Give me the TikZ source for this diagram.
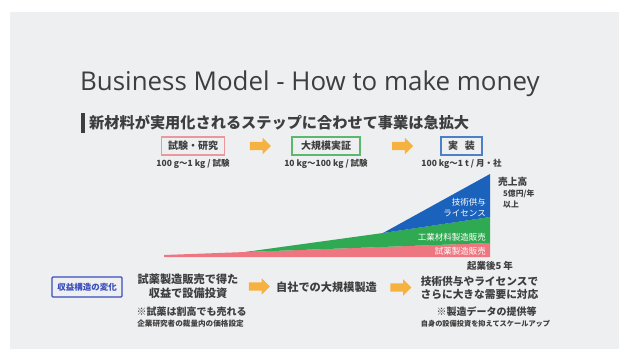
\documentclass[tikz,border=0pt]{standalone}
\usepackage{fontspec}
\setmainfont{Carlito}
\newfontfamily\titlefont{Open Sans}
\newfontfamily\jp{Noto Sans CJK JP}
\usetikzlibrary{positioning}
\usetikzlibrary{shapes.arrows}

\definecolor{slidegray}{RGB}{238,239,241}
\definecolor{txtgray}{RGB}{62,62,62}
\definecolor{titlegray}{RGB}{62,62,62}
\definecolor{pinkc}{RGB}{238,118,128}
\definecolor{greenc}{RGB}{48,170,82}
\definecolor{bluec}{RGB}{26,98,188}
\definecolor{orangec}{RGB}{246,178,64}
\definecolor{boxpink}{RGB}{236,150,158}
\definecolor{boxgreen}{RGB}{92,184,110}
\definecolor{boxblue}{RGB}{78,128,200}
\definecolor{navyc}{RGB}{58,78,188}

\tikzset{
  stepbox/.style={draw=#1, line width=1.2pt, minimum height=18pt, inner sep=0pt,
    text=txtgray, font=\jp\bfseries\fontsize{10}{12}\selectfont},
  subtxt/.style={text=txtgray, inner sep=0pt, font=\jp\bfseries\fontsize{8.5}{10}\selectfont},
  bigarrow/.style={single arrow, fill=orangec, inner xsep=0pt, inner ysep=4pt,
    minimum width=16pt, minimum height=21pt, single arrow head extend=4pt},
  chartlbl/.style={text=white, inner sep=0pt, align=right, font=\jp\fontsize{8.5}{11}\selectfont},
  maintxt/.style={text=txtgray, inner sep=0pt, align=center, font=\jp\bfseries\fontsize{11.2}{14}\selectfont},
  notetxt/.style={text=txtgray, inner sep=0pt, font=\jp\bfseries\fontsize{10}{12}\selectfont},
  smalltxt/.style={text=txtgray, inner sep=0pt, font=\jp\bfseries\fontsize{#1}{9}\selectfont},
}

\begin{document}
\begin{tikzpicture}[x=1pt, y=-1pt]
\useasboundingbox (0,0) rectangle (619,351);
\fill[slidegray] (10,12) rectangle (619,349);

% title and lead line
\node[anchor=base west, inner sep=0pt, text=titlegray, font=\titlefont\fontsize{25.9}{30}\selectfont] (title) at (80,90) {Business Model - How to make money};
\fill[txtgray] (81,113) rectangle (85,133);
\node[anchor=west, inner sep=0pt, text=txtgray, font=\jp\bfseries\fontsize{15.2}{18}\selectfont] (lead) at (89,123) {新材料が実用化されるステップに合わせて事業は急拡大};

% steps
\node[stepbox=boxpink, minimum width=63pt] (test) at (193,146) {試験・研究};
\node[stepbox=boxgreen, minimum width=68pt] (demo) at (326,146) {大規模実証};
\node[stepbox=boxblue, minimum width=41pt] (impl) at (461.5,146) {実\hspace{0.7em}装};
\path (test) -- node[bigarrow] (a1) {} (demo);
\path (demo) -- node[bigarrow] (a2) {} (impl);

\node[subtxt, below=3pt of test] (testq) {100 g〜1 kg / 試験};
\node[subtxt, below=3pt of demo] (demoq) {10 kg〜100 kg / 試験};
\node[subtxt, below=3pt of impl] (implq) {100 kg〜1 t / 月・社};

% sales chart
\coordinate (O) at (164,257);
\coordinate (E) at (490,257);
\coordinate (G) at (245,252);
\coordinate (K) at (383,233);
\coordinate (T) at (490,174);
\fill[pinkc] (O) -- (164,255) -- (490,243) -- (E) -- cycle;
\fill[greenc] (G) -- (K) -- (490,217) -- (490,243) -- cycle;
\fill[bluec] (K) -- (T) -- (490,217) -- cycle;

\node[chartlbl, anchor=east] (lic) at (486,207.5) {技術供与\\ライセンス};
\node[chartlbl, anchor=east] (ind) at (486,237) {工業材料製造販売};
\node[chartlbl, anchor=east] (rea) at (486,251) {試薬製造販売};

\node[anchor=west, text=txtgray, inner sep=0pt, font=\jp\bfseries\fontsize{9.7}{11}\selectfont] (sales) at (498,182) {売上高};
\node[anchor=north west, align=left, text=txtgray, inner sep=0pt, font=\jp\bfseries\fontsize{7.8}{11}\selectfont] (amt) at (503,190) {5億円/年\\以上};
\node[text=txtgray, inner sep=0pt, font=\jp\bfseries\fontsize{9.5}{11}\selectfont] (yr5) at (490,266) {起業後5 年};

% revenue structure
\node[draw=navyc, line width=1.2pt, rounded corners=1pt, minimum width=70pt, minimum height=20pt, inner sep=0pt, text=navyc, font=\jp\bfseries\fontsize{8.5}{10}\selectfont] (rev) at (87,287) {収益構造の変化};
\node[maintxt] (inv) at (188,286) {試薬製造販売で得た\\収益で設備投資};
\node[maintxt] (mfg) at (326.5,287) {自社での大規模製造};
\node[maintxt, font=\jp\bfseries\fontsize{10.7}{12.5}\selectfont] (lic2) at (479.5,288) {技術供与やライセンスで\\さらに大きな需要に対応};
\path (inv) -- node[bigarrow] (b1) {} (mfg);
\path (mfg) -- node[bigarrow] (b2) {} (lic2);

\node[notetxt] (note1) at (191.5,312) {※試薬は割高でも売れる};
\node[smalltxt=7.6] (note1s) at (190.5,324) {企業研究者の裁量内の価格設定};
\node[notetxt] (note2) at (486.5,312) {※製造データの提供等};
\node[smalltxt=7.2] (note2s) at (485.5,324) {自身の設備投資を抑えてスケールアップ};
\end{tikzpicture}
\end{document}
